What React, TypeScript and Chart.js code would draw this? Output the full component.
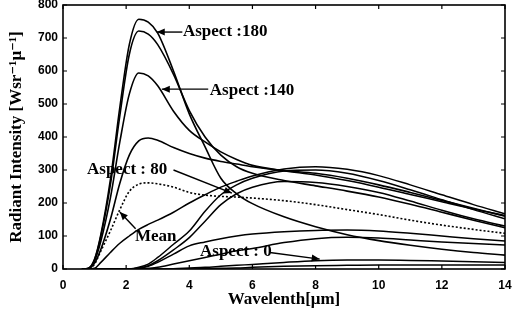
import React, { useEffect, useRef } from "react";
import { Chart, registerables } from "chart.js";

Chart.register(...registerables);

// Wavelength grid (μm)
const wavelengths = [0.6, 0.8, 1, 1.2, 1.5, 1.8, 2.1, 2.4, 2.7, 3, 3.5, 4, 4.5, 5, 5.5, 6, 7, 8, 9, 10, 11, 12, 13, 14];

// Radiant intensity series (W sr^-1 μ^-1)
const aspect180 = [0, 2, 30, 105, 270, 490, 680, 757, 748, 715, 600, 470, 370, 275, 228, 198, 158, 128, 104, 86, 72, 60, 50, 42];
const aspect160 = [0, 2, 28, 100, 255, 465, 650, 721, 712, 680, 590, 480, 400, 345, 310, 290, 268, 252, 236, 218, 196, 172, 148, 125];
const aspect140 = [0, 1, 25, 85, 215, 385, 530, 594, 585, 555, 478, 420, 385, 355, 332, 314, 298, 285, 268, 248, 226, 204, 182, 162];
const aspect100 = [0, 1, 18, 60, 150, 260, 345, 388, 397, 390, 368, 350, 336, 326, 318, 310, 298, 290, 275, 255, 232, 208, 184, 160];
const meanSeries = [0, 0, 15, 55, 115, 180, 235, 257, 261, 258, 248, 232, 224, 220, 218, 215, 207, 195, 180, 165, 148, 133, 120, 108];
const aspect60 = [0, 0, 2, 20, 50, 78, 100, 120, 135, 148, 172, 200, 225, 248, 266, 282, 303, 310, 302, 283, 255, 225, 195, 167];
const aspect40 = [0, 0, 0, 0, 0, 0, 0, 5, 15, 35, 75, 115, 175, 225, 255, 275, 297, 300, 290, 268, 240, 210, 180, 152];
const aspect30 = [0, 0, 0, 0, 0, 0, 0, 3, 10, 25, 58, 95, 145, 195, 228, 248, 265, 262, 250, 232, 206, 178, 152, 130];
const aspect20 = [0, 0, 0, 0, 0, 0, 0, 2, 8, 20, 45, 70, 82, 92, 100, 106, 113, 117, 118, 115, 108, 100, 92, 85];
const aspect10 = [0, 0, 0, 0, 0, 0, 0, 0, 2, 5, 15, 25, 35, 45, 55, 62, 80, 92, 96, 94, 88, 82, 77, 73];
const aspect0 = [0, 0, 0, 0, 0, 0, 0, 0, 0, 0, 1, 3, 5, 8, 11, 14, 20, 25, 27, 27, 26, 24, 22, 20];
const aspect0b = [0, 0, 0, 0, 0, 0, 0, 0, 0, 0, 0, 0, 1, 2, 3, 5, 8, 10, 11, 12, 12, 12, 12, 12];

const xTicks = [0, 2, 4, 6, 8, 10, 12, 14];
const yTicks = [0, 100, 200, 300, 400, 500, 600, 700, 800];

// Annotation labels: text, anchor (data units), arrow from -> to (data units)
const annotations = [
  { text: "Aspect :180", x: 3.8, y: 718, from: [3.78, 718], to: [2.97, 718] },
  { text: "Aspect :140", x: 4.65, y: 542, from: [4.6, 545], to: [3.13, 545] },
  { text: "Aspect : 80", x: 0.76, y: 300, from: [3.5, 300], to: [5.35, 230] },
  { text: "Mean", x: 2.28, y: 97, from: [2.3, 122], to: [1.8, 173] },
  { text: "Aspect : 0", x: 4.34, y: 52, from: [6.55, 50], to: [8.13, 30] },
];

const seriesList = [
  { label: "Aspect 180", data: aspect180, dash: [] as number[], width: 1.6 },
  { label: "Aspect 160", data: aspect160, dash: [], width: 1.6 },
  { label: "Aspect 140", data: aspect140, dash: [], width: 1.6 },
  { label: "Aspect 100", data: aspect100, dash: [], width: 1.6 },
  { label: "Mean", data: meanSeries, dash: [2, 2], width: 1.6 },
  { label: "Aspect 60", data: aspect60, dash: [], width: 1.5 },
  { label: "Aspect 40", data: aspect40, dash: [], width: 1.5 },
  { label: "Aspect 30", data: aspect30, dash: [], width: 1.5 },
  { label: "Aspect 20", data: aspect20, dash: [], width: 1.5 },
  { label: "Aspect 10", data: aspect10, dash: [], width: 1.5 },
  { label: "Aspect 0", data: aspect0, dash: [], width: 1.5 },
  { label: "Aspect 0b", data: aspect0b, dash: [], width: 1.5 },
];

const framePlugin = {
  id: "frameAndNotes",
  afterDatasetsDraw(chart: any) {
    const { ctx, chartArea, scales } = chart;
    const xs = scales.x;
    const ys = scales.y;
    ctx.save();
    ctx.strokeStyle = "#000";
    ctx.lineWidth = 1.6;
    ctx.strokeRect(chartArea.left, chartArea.top, chartArea.right - chartArea.left, chartArea.bottom - chartArea.top);
    ctx.lineWidth = 1.2;
    const tl = 4;
    ctx.beginPath();
    xTicks.forEach((v) => {
      const px = xs.getPixelForValue(v);
      ctx.moveTo(px, chartArea.bottom);
      ctx.lineTo(px, chartArea.bottom - tl);
      ctx.moveTo(px, chartArea.top);
      ctx.lineTo(px, chartArea.top + tl);
    });
    yTicks.forEach((v) => {
      const py = ys.getPixelForValue(v);
      ctx.moveTo(chartArea.left, py);
      ctx.lineTo(chartArea.left + tl, py);
      ctx.moveTo(chartArea.right, py);
      ctx.lineTo(chartArea.right - tl, py);
    });
    ctx.stroke();

    // annotations
    ctx.fillStyle = "#000";
    ctx.font = "bold 17px 'Liberation Serif', 'DejaVu Serif', serif";
    ctx.textAlign = "left";
    ctx.textBaseline = "middle";
    annotations.forEach((a) => {
      const fx = xs.getPixelForValue(a.from[0]);
      const fy = ys.getPixelForValue(a.from[1]);
      const tx = xs.getPixelForValue(a.to[0]);
      const ty = ys.getPixelForValue(a.to[1]);
      ctx.lineWidth = 1.4;
      ctx.beginPath();
      ctx.moveTo(fx, fy);
      ctx.lineTo(tx, ty);
      ctx.stroke();
      const ang = Math.atan2(ty - fy, tx - fx);
      const L = 8, W = 3.5;
      ctx.beginPath();
      ctx.moveTo(tx, ty);
      ctx.lineTo(tx - L * Math.cos(ang) + W * Math.sin(ang), ty - L * Math.sin(ang) - W * Math.cos(ang));
      ctx.lineTo(tx - L * Math.cos(ang) - W * Math.sin(ang), ty - L * Math.sin(ang) + W * Math.cos(ang));
      ctx.closePath();
      ctx.fill();
      ctx.fillText(a.text, xs.getPixelForValue(a.x), ys.getPixelForValue(a.y));
    });
    ctx.restore();
  },
};

export default function App() {
  const ref = useRef<HTMLCanvasElement>(null);
  useEffect(() => {
    if (!ref.current) return;
    const chart = new Chart(ref.current, {
      type: "line",
      data: {
        datasets: seriesList.map((s) => ({
          label: s.label,
          data: wavelengths.map((x, i) => ({ x, y: s.data[i] })),
          borderColor: "#000",
          backgroundColor: "#000",
          borderWidth: s.width,
          borderDash: s.dash,
          pointRadius: 0,
          fill: false,
          cubicInterpolationMode: "monotone" as const,
        })),
      },
      options: {
        responsive: false,
        animation: false,
        layout: { padding: { top: 5, right: 8, left: 0, bottom: 0 } },
        plugins: { legend: { display: false }, tooltip: { enabled: false } },
        scales: {
          x: {
            type: "linear",
            min: 0,
            max: 14,
            afterBuildTicks: (s: any) => { s.ticks = xTicks.map((v) => ({ value: v })); },
            afterFit: (s: any) => { s.height = 44; s.paddingLeft = 0; s.paddingRight = 0; },
            ticks: { color: "#000", padding: 9, font: { family: "'Liberation Sans', Arial, sans-serif", size: 12, weight: "bold" } },
            grid: { display: false, drawTicks: false },
            border: { display: false },
            title: {
              display: true,
              text: "Wavelenth[μm]",
              color: "#000",
              font: { family: "'Liberation Serif', 'DejaVu Serif', serif", size: 17, weight: "bold" },
              padding: { top: 0, bottom: 3 },
            },
          },
          y: {
            type: "linear",
            min: 0,
            max: 800,
            afterBuildTicks: (s: any) => { s.ticks = yTicks.map((v) => ({ value: v })); },
            afterFit: (s: any) => { s.width = 63; s.paddingTop = 0; s.paddingBottom = 0; },
            ticks: { color: "#000", padding: 5, font: { family: "'Liberation Sans', Arial, sans-serif", size: 12, weight: "bold" } },
            grid: { display: false, drawTicks: false },
            border: { display: false },
            title: {
              display: true,
              text: "Radiant Intensity [Wsr⁻¹μ⁻¹]",
              color: "#000",
              font: { family: "'Liberation Serif', 'DejaVu Serif', serif", size: 17, weight: "bold" },
              padding: { top: 6, bottom: 0 },
            },
          },
        },
      },
      plugins: [framePlugin],
    });
    return () => chart.destroy();
  }, []);
  return (
    <div style={{ position: "absolute", left: 0, top: 0, width: 513, height: 313, background: "#fff" }}>
      <canvas ref={ref} width={513} height={313} style={{ display: "block" }} />
    </div>
  );
}
